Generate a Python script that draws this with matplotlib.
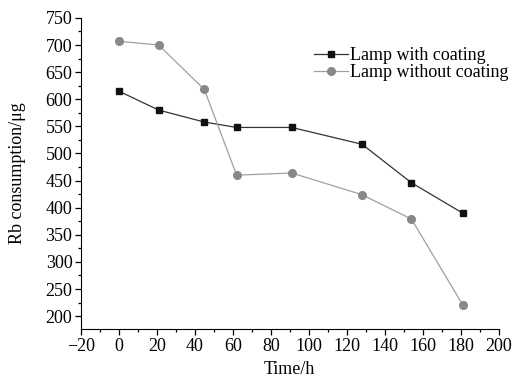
import matplotlib
matplotlib.use("Agg")
import matplotlib.pyplot as plt
from matplotlib.ticker import MultipleLocator

plt.rcParams['font.family'] = ['Liberation Serif', 'DejaVu Serif']

time_h = [0, 21, 45, 62, 91, 128, 154, 181]
with_coating = [615, 580, 558, 548, 548, 517, 446, 390]
without_coating = [707, 700, 618, 460, 464, 424, 379, 221]
labels = ["Lamp with coating", "Lamp without coating"]

fig = plt.figure(figsize=(5.18, 3.81), dpi=100)
ax = fig.add_axes([0.156, 0.136, 0.807, 0.817])

ax.plot(time_h, with_coating, color='#333333', lw=0.9, marker='s', ms=5,
        mfc='#111111', mec='#111111', label=labels[0])
ax.plot(time_h, without_coating, color='#a0a0a0', lw=0.9, marker='o', ms=5.5,
        mfc='#888888', mec='#888888', label=labels[1])

ax.set_xlim(-20, 200)
ax.set_ylim(176, 750)
ax.xaxis.set_major_locator(MultipleLocator(20))
ax.xaxis.set_minor_locator(MultipleLocator(10))
ax.yaxis.set_minor_locator(MultipleLocator(25))
ax.set_yticks(range(200, 751, 50))

for s in ['top', 'right']:
    ax.spines[s].set_visible(False)
ax.tick_params(which='both', direction='out', labelsize=13, width=0.9, pad=2)
ax.tick_params(which='major', length=4)
ax.tick_params(which='minor', length=2.5)

ax.set_xlabel("Time/h", fontsize=13, labelpad=5)
ax.set_ylabel("Rb consumption/μg", fontsize=13, labelpad=14)

ax.legend(loc='upper right', bbox_to_anchor=(1.04, 0.93), frameon=False,
          fontsize=13, handlelength=1.9, handletextpad=0.1, labelspacing=0.0,
          borderaxespad=0)

fig.savefig("out.png", dpi=100)
